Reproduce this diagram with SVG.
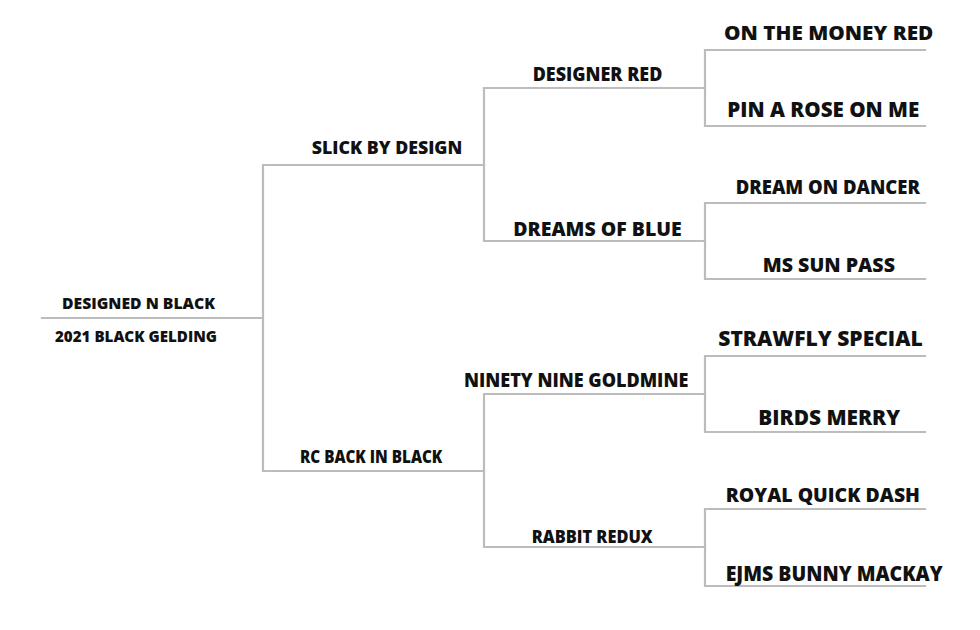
<svg xmlns="http://www.w3.org/2000/svg" width="980" height="630" viewBox="0 0 980 630">
<style>
.ln{stroke:#bcbcbc;stroke-width:2.2;fill:none;stroke-linecap:square}
text{font-family:"Open Sans","Liberation Sans",Arial,sans-serif;font-weight:800;fill:#111}
</style>
<rect width="980" height="630" fill="#fff"/>
<g id="connectors">
<path class="ln" d="M42,318H263M263,165V471M263,165H484M263,471H484"/>
<path class="ln" d="M484,88V241M484,88H705M484,241H705M484,394V547M484,394H705M484,547H705"/>
<path class="ln" d="M705,50V126M705,50H925M705,126H925"/>
<path class="ln" d="M705,203V279M705,203H925M705,279H925"/>
<path class="ln" d="M705,356V432M705,356H925M705,432H925"/>
<path class="ln" d="M705,509V586M705,509H925M705,586H925"/>
</g>
<g id="n-root">
<text x="62" y="309" font-size="16.4" textLength="153" lengthAdjust="spacingAndGlyphs">DESIGNED N BLACK</text>
<text x="55" y="341.5" font-size="16.4" textLength="162" lengthAdjust="spacingAndGlyphs">2021 BLACK GELDING</text>
</g>
<g id="n-slick"><text x="311.7" y="154" font-size="17.3" textLength="150.6" lengthAdjust="spacingAndGlyphs">SLICK BY DESIGN</text></g>
<g id="n-rc"><text x="300" y="463.3" font-size="17.3" textLength="142.3" lengthAdjust="spacingAndGlyphs">RC BACK IN BLACK</text></g>
<g id="n-designer-red"><text x="532.7" y="80.7" font-size="18.5" textLength="129.6" lengthAdjust="spacingAndGlyphs">DESIGNER RED</text></g>
<g id="n-dreams-blue"><text x="513.3" y="236" font-size="20" textLength="168.4" lengthAdjust="spacingAndGlyphs">DREAMS OF BLUE</text></g>
<g id="n-ninety"><text x="464" y="386.7" font-size="18.7" textLength="224.3" lengthAdjust="spacingAndGlyphs">NINETY NINE GOLDMINE</text></g>
<g id="n-rabbit"><text x="531.7" y="543.3" font-size="17.7" textLength="121" lengthAdjust="spacingAndGlyphs">RABBIT REDUX</text></g>
<g id="n-money"><text x="724" y="40" font-size="20" textLength="209.3" lengthAdjust="spacingAndGlyphs">ON THE MONEY RED</text></g>
<g id="n-pin"><text x="727.3" y="116.7" font-size="21" textLength="192" lengthAdjust="spacingAndGlyphs">PIN A ROSE ON ME</text></g>
<g id="n-dancer"><text x="735.7" y="194.3" font-size="19" textLength="184.3" lengthAdjust="spacingAndGlyphs">DREAM ON DANCER</text></g>
<g id="n-sunpass"><text x="762.7" y="271.7" font-size="19.6" textLength="132.3" lengthAdjust="spacingAndGlyphs">MS SUN PASS</text></g>
<g id="n-strawfly"><text x="718.3" y="346" font-size="21" textLength="204.4" lengthAdjust="spacingAndGlyphs">STRAWFLY SPECIAL</text></g>
<g id="n-birds"><text x="758.3" y="425" font-size="21" textLength="141.7" lengthAdjust="spacingAndGlyphs">BIRDS MERRY</text></g>
<g id="n-royal"><text x="725.7" y="501.7" font-size="20" textLength="194.3" lengthAdjust="spacingAndGlyphs">ROYAL QUICK DASH</text></g>
<g id="n-ejms"><text x="725.7" y="580.7" font-size="20.5" textLength="217" lengthAdjust="spacingAndGlyphs">EJMS BUNNY MACKAY</text></g>
</svg>
